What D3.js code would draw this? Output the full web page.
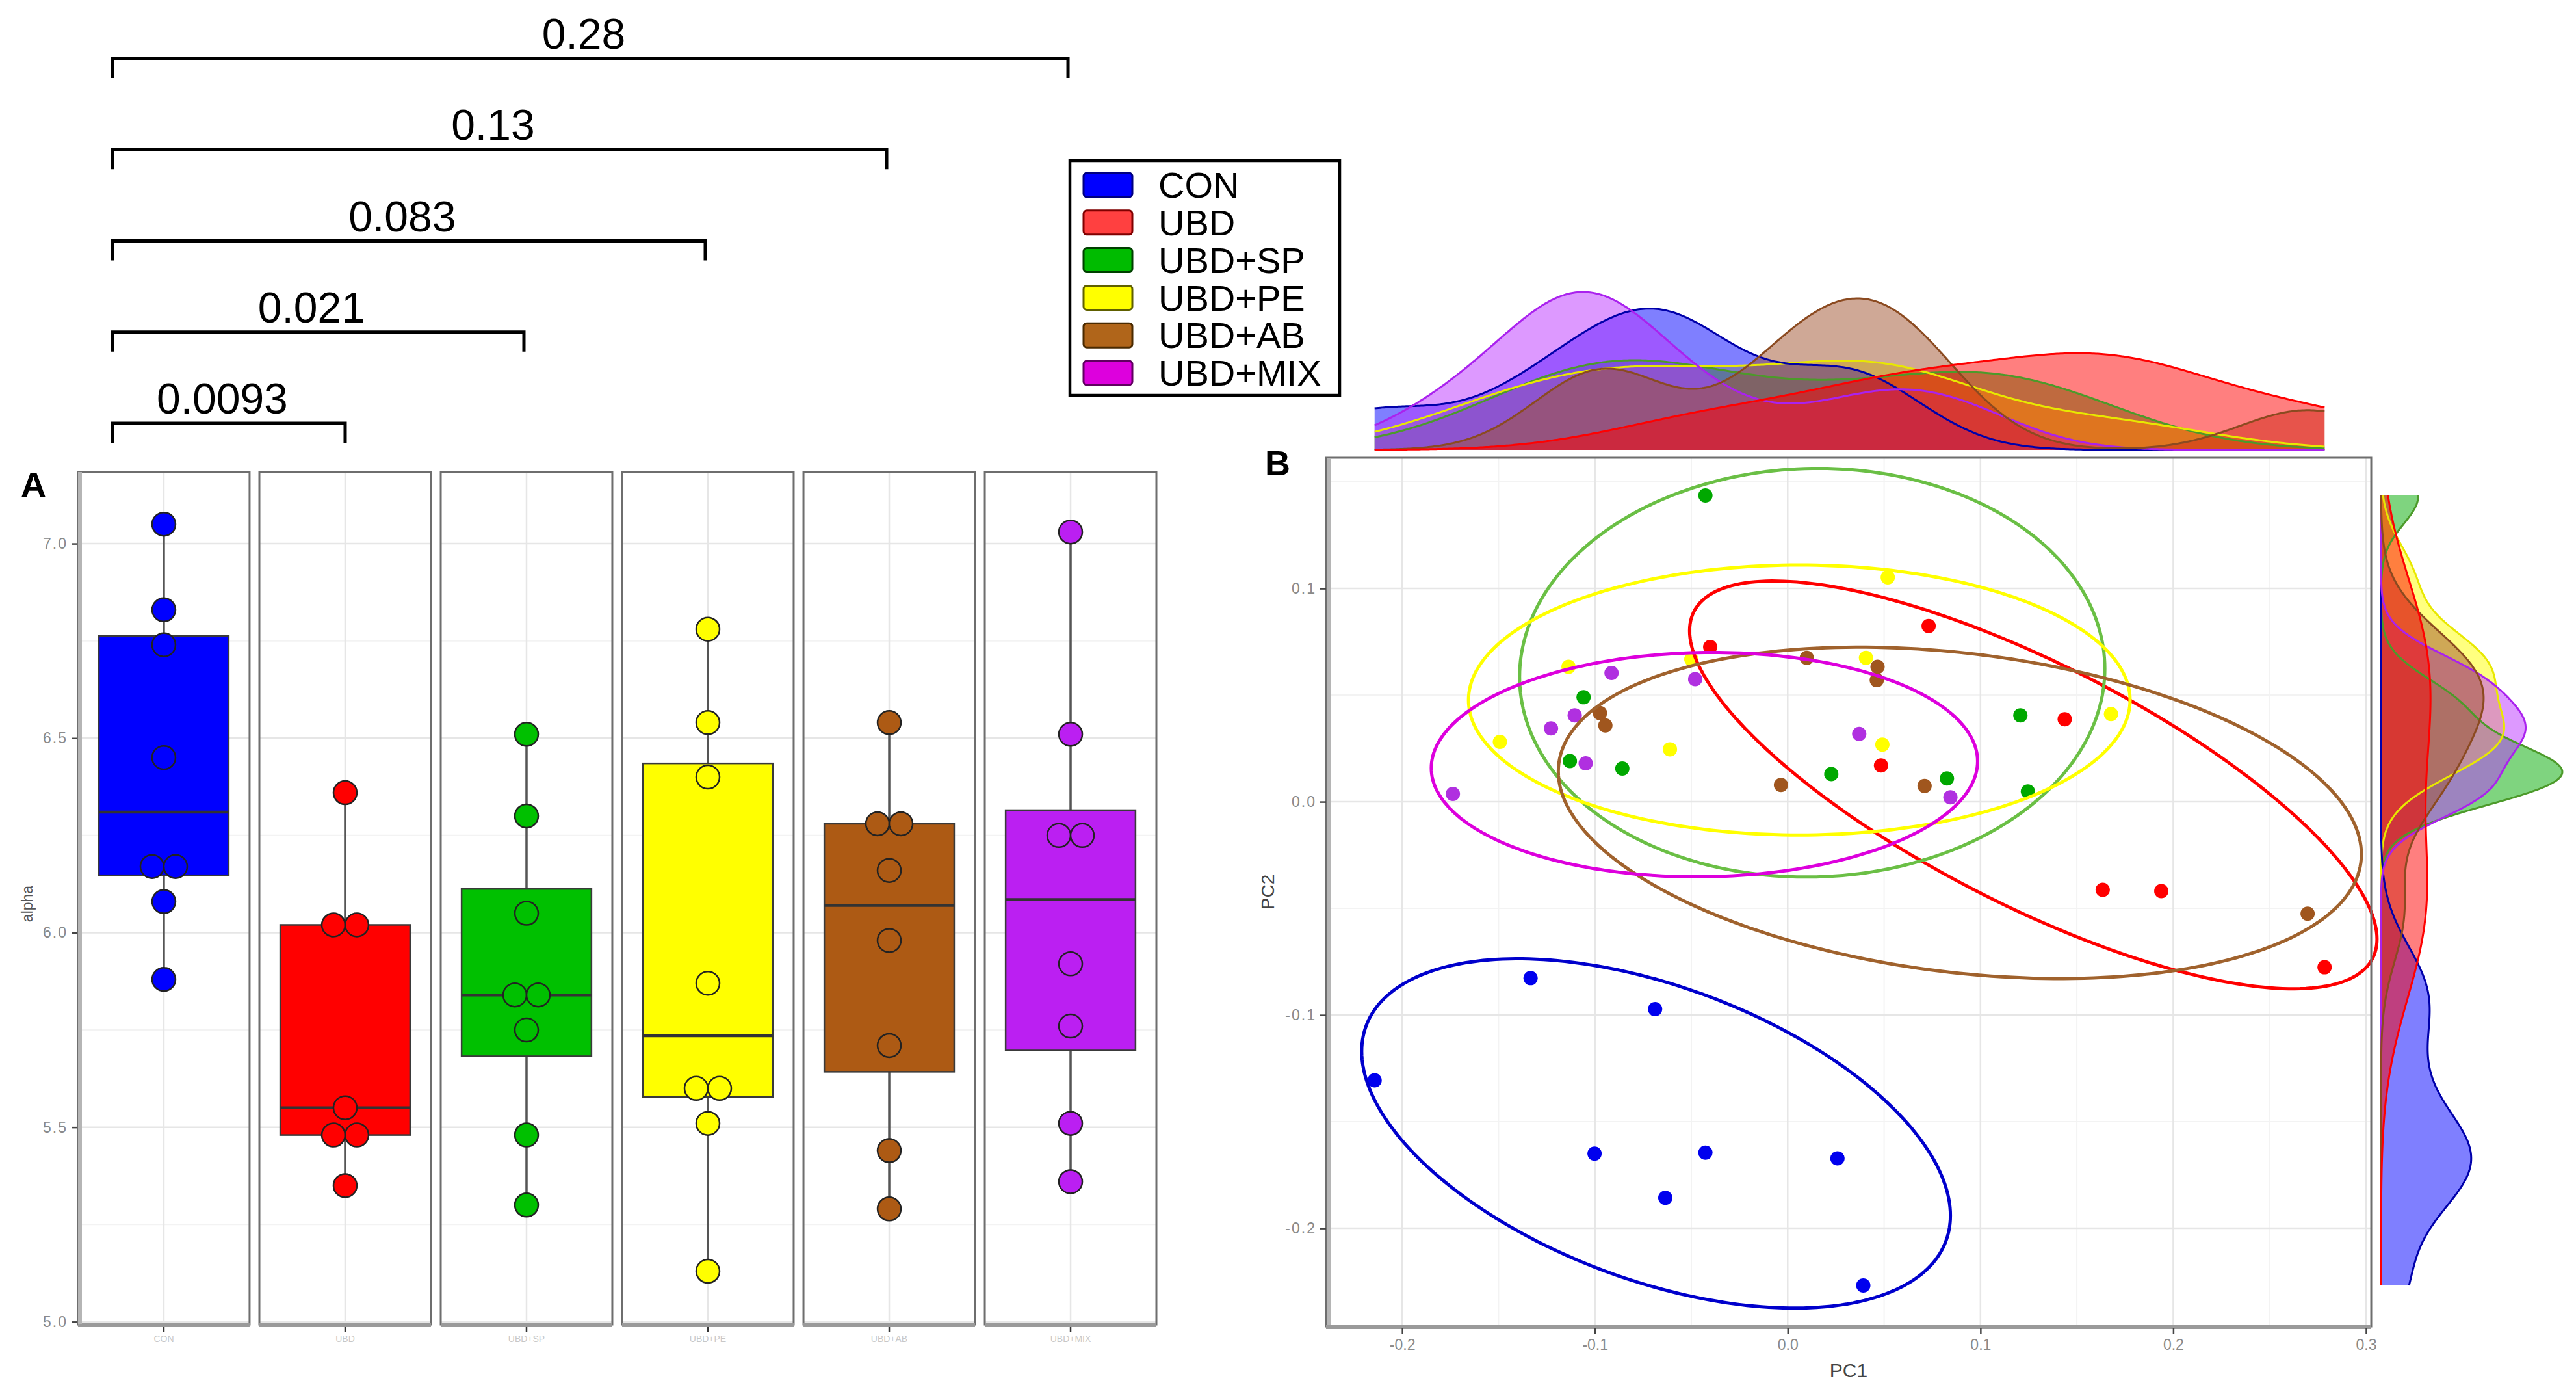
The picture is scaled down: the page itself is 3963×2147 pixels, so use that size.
<!DOCTYPE html>
<html>
<head>
<meta charset="utf-8">
<script src="https://cdn.jsdelivr.net/npm/d3@7"></script>
<style>
body { margin: 0; background: #fff; }
svg text { font-family: "Liberation Sans", Arial, sans-serif; }
</style>
</head>
<body>
<div id="chart"></div>
<script>
// groups and colours
const groups = ["CON", "UBD", "UBD+SP", "UBD+PE", "UBD+AB", "UBD+MIX"]
const boxFill = ["#0000ff", "#ff0000", "#00c000", "#ffff00", "#ad5a14", "#bb1ff2"]
const legendFill = ["#0000ff", "#ff4040", "#00bb00", "#ffff00", "#b0651a", "#dd00dd"]
const legendStroke = ["#000080", "#800000", "#004000", "#606000", "#4a2a00", "#600060"]
const pointFill = ["#0000ee", "#ff0000", "#00a800", "#ffff00", "#a0561e", "#b030e0"]
const ellipseColor = ["#0000cc", "#ff0000", "#6abf45", "#ffff00", "#a0622d", "#dd00dd"]
const densFill = ["#0000ff", "#ff0000", "#00aa00", "#ffff00", "#a0522d", "#bb33ff"]
const densStroke = ["#0000aa", "#ff0000", "#4c9a2a", "#e8e800", "#8b4a20", "#aa22ee"]

// panel A: alpha diversity per group
const alphaCON = [7.05, 6.83, 6.74, 6.45, 6.17, 6.17, 6.08, 5.88]
const alphaUBD = [6.36, 6.02, 6.02, 5.55, 5.48, 5.48, 5.35]
const alphaSP = [6.51, 6.30, 6.05, 5.84, 5.84, 5.75, 5.48, 5.30]
const alphaPE = [6.78, 6.54, 6.40, 5.87, 5.60, 5.60, 5.51, 5.13]
const alphaAB = [6.54, 6.28, 6.28, 6.16, 5.98, 5.71, 5.44, 5.29]
const alphaMIX = [7.03, 6.51, 6.25, 6.25, 5.92, 5.76, 5.51, 5.36]
const alphaTicks = [5.0, 5.5, 6.0, 6.5, 7.0]

// p-values, each group vs CON
const pGroups = ["UBD", "UBD+SP", "UBD+PE", "UBD+AB", "UBD+MIX"]
const pValues = ["0.0093", "0.021", "0.083", "0.13", "0.28"]

// panel B: PCoA coordinates
const pc1CON = [-0.1334, -0.0688, -0.2143, -0.1002, -0.0427, 0.0258, -0.0635, 0.0392]
const pc2CON = [-0.0827, -0.0972, -0.1306, -0.1650, -0.1645, -0.1672, -0.1857, -0.2268]
const pc1UBD = [-0.0402, 0.0731, 0.1437, 0.0484, 0.1634, 0.1938, 0.2785]
const pc2UBD = [0.0726, 0.0824, 0.0387, 0.0170, -0.0413, -0.0419, -0.0776]
const pc1SP = [-0.0427, -0.1059, -0.1130, -0.0858, 0.0226, 0.0826, 0.1207, 0.1246]
const pc2SP = [0.1436, 0.0490, 0.0191, 0.0156, 0.0130, 0.0109, 0.0405, 0.0048]
const pc1PE = [0.0519, -0.1137, 0.0406, -0.1493, -0.0611, 0.0491, 0.1677, -0.0500]
const pc2PE = [0.1052, 0.0633, 0.0675, 0.0281, 0.0246, 0.0268, 0.0411, 0.0668]
const pc1AB = [0.0099, 0.0466, 0.0462, -0.0974, -0.0946, -0.0035, 0.0710, 0.2697]
const pc2AB = [0.0675, 0.0633, 0.0570, 0.0416, 0.0358, 0.0079, 0.0074, -0.0525]
const pc1MIX = [-0.0914, -0.0480, -0.1105, -0.1228, -0.1048, -0.1737, 0.0371, 0.0844]
const pc2MIX = [0.0604, 0.0575, 0.0405, 0.0344, 0.0180, 0.0037, 0.0318, 0.0021]
const pc1Ticks = [-0.2, -0.1, 0.0, 0.1, 0.2, 0.3]
const pc2Ticks = [-0.2, -0.1, 0.0, 0.1]

// group ellipses (centre, half width, half height, tilt k = cos delta)
const ellCx = [-0.0683, 0.1274, 0.0127, 0.0060, 0.0893, -0.0432]
const ellCy = [-0.1555, 0.0079, 0.0605, 0.0477, -0.0052, 0.0174]
const ellA = [0.1527, 0.1783, 0.1518, 0.1716, 0.2083, 0.1417]
const ellB = [0.0819, 0.0956, 0.0958, 0.0633, 0.0777, 0.0526]
const ellK = [-0.47, -0.756, 0.02, 0.0, -0.25, 0.03]

const width = 3963, height = 2147
const svg = d3.select('#chart').append('svg').attr('width', width).attr('height', height)
svg.append('rect').attr('width', width).attr('height', height).attr('fill', '#fff')

// ================= Panel A =================
const alphaData = [alphaCON, alphaUBD, alphaSP, alphaPE, alphaAB, alphaMIX]
const xA = d3.scaleBand().domain(groups).range([120, 1779]).paddingInner(0.054)
const yA = d3.scaleLinear().domain([4.993, 7.184]).range([2037, 726])
const bw = xA.bandwidth()
const gA = svg.append('g')

groups.forEach((g, i) => {
    const x0 = xA(g), cx = x0 + bw / 2
    const p = gA.append('g')
    p.append('rect').attr('x', x0).attr('y', yA.range()[1]).attr('width', bw)
        .attr('height', yA.range()[0] - yA.range()[1]).attr('fill', '#fff')
    // minor grid
    d3.range(5.25, 7.2, 0.5).forEach(v => {
        p.append('line').attr('x1', x0).attr('x2', x0 + bw).attr('y1', yA(v)).attr('y2', yA(v))
            .attr('stroke', '#f3f3f3').attr('stroke-width', 2)
    })
    alphaTicks.forEach(v => {
        p.append('line').attr('x1', x0).attr('x2', x0 + bw).attr('y1', yA(v)).attr('y2', yA(v))
            .attr('stroke', '#e6e6e6').attr('stroke-width', 2.5)
    })
    p.append('line').attr('x1', cx).attr('x2', cx).attr('y1', yA.range()[1]).attr('y2', yA.range()[0])
        .attr('stroke', '#e6e6e6').attr('stroke-width', 2.5)

    // box stats
    const vals = alphaData[i].slice().sort(d3.ascending)
    const q1 = d3.quantileSorted(vals, 0.25), q3 = d3.quantileSorted(vals, 0.75)
    const med = d3.quantileSorted(vals, 0.5), iqr = q3 - q1
    const lo = d3.min(vals.filter(v => v >= q1 - 1.5 * iqr))
    const hi = d3.max(vals.filter(v => v <= q3 + 1.5 * iqr))
    const boxW = bw * 0.757

    p.append('line').attr('x1', cx).attr('x2', cx).attr('y1', yA(hi)).attr('y2', yA(lo))
        .attr('stroke', '#555').attr('stroke-width', 3.5)
    p.append('rect').attr('x', cx - boxW / 2).attr('y', yA(q3)).attr('width', boxW)
        .attr('height', yA(q1) - yA(q3)).attr('fill', boxFill[i])
        .attr('stroke', '#3a3a3a').attr('stroke-width', 2.5)
    p.append('line').attr('x1', cx - boxW / 2).attr('x2', cx + boxW / 2)
        .attr('y1', yA(med)).attr('y2', yA(med)).attr('stroke', '#333').attr('stroke-width', 4.5)

    // dots, equal values placed side by side
    const r = 18
    const pts = alphaData[i].map((v, j) => {
        const same = alphaData[i].filter(w => w === v).length
        const idx = alphaData[i].slice(0, j).filter(w => w === v).length
        return { v: v, dx: (idx - (same - 1) / 2) * 2 * r }
    })
    p.selectAll('circle').data(pts).join('circle')
        .attr('cx', d => cx + d.dx).attr('cy', d => yA(d.v)).attr('r', r)
        .attr('fill', boxFill[i]).attr('stroke', '#222').attr('stroke-width', 2.5)

    p.append('rect').attr('x', x0).attr('y', yA.range()[1]).attr('width', bw)
        .attr('height', yA.range()[0] - yA.range()[1]).attr('fill', 'none')
        .attr('stroke', '#6e6e6e').attr('stroke-width', 3)
    p.append('line').attr('x1', x0).attr('x2', x0 + bw).attr('y1', yA.range()[0] + 1).attr('y2', yA.range()[0] + 1)
        .attr('stroke', '#9a9a9a').attr('stroke-width', 6)
    // x tick + faint label
    p.append('line').attr('x1', cx).attr('x2', cx).attr('y1', yA.range()[0] + 4).attr('y2', yA.range()[0] + 12)
        .attr('stroke', '#333').attr('stroke-width', 2.5)
    p.append('text').attr('x', cx).attr('y', 2064).attr('text-anchor', 'middle')
        .style('font-size', '14px').attr('fill', '#c8c8c8').text(g)
})

// left axis bar + ticks
gA.append('line').attr('x1', 123).attr('x2', 123).attr('y1', yA.range()[1]).attr('y2', yA.range()[0])
    .attr('stroke', '#b5b5b5').attr('stroke-width', 6)
const axA = gA.append('g').attr('transform', 'translate(118,0)')
    .call(d3.axisLeft(yA).tickValues(alphaTicks).tickFormat(d => d.toFixed(1)).tickSize(8).tickPadding(6))
axA.select('.domain').remove()
axA.selectAll('line').attr('stroke', '#444').attr('stroke-width', 2.5)
axA.selectAll('text').attr('fill', '#8a8a8a').style('font-size', '23px').style('letter-spacing', '2px')
    .style('font-family', '"Liberation Sans", Arial, sans-serif')

gA.append('text').attr('transform', 'translate(50,1390) rotate(-90)').attr('text-anchor', 'middle')
    .style('font-size', '23px').attr('fill', '#555').text('alpha')
gA.append('text').attr('x', 32).attr('y', 764).style('font-size', '54px').style('font-weight', 'bold')
    .attr('fill', '#000').text('A')

// significance brackets
const yBr = d3.scalePoint().domain(pGroups).range([651, 90])
pGroups.forEach((g, i) => {
    const xl = xA("CON") + bw * 0.2
    const xr = xA(g) + bw / 2 - (i === 0 ? 0 : 4)
    const y = yBr(g)
    gA.append('path').attr('d', `M${xl},${y + 30}V${y}H${xr}V${y + 30}`)
        .attr('fill', 'none').attr('stroke', '#000').attr('stroke-width', 5)
    gA.append('text').attr('x', (xl + xr) / 2 - 10).attr('y', y - 15).attr('text-anchor', 'middle')
        .style('font-size', '66px').attr('fill', '#000').text(pValues[i])
})

// legend
const gL = svg.append('g')
gL.append('rect').attr('x', 1646).attr('y', 247).attr('width', 415).attr('height', 361)
    .attr('fill', '#fff').attr('stroke', '#000').attr('stroke-width', 4.5)
const yLeg = d3.scalePoint().domain(groups).range([284.5, 284.5 + 5 * 57.8])
groups.forEach((g, i) => {
    gL.append('rect').attr('x', 1667).attr('y', yLeg(g) - 18.5).attr('width', 75).attr('height', 37)
        .attr('rx', 5).attr('fill', legendFill[i]).attr('stroke', legendStroke[i]).attr('stroke-width', 3)
    gL.append('text').attr('x', 1782).attr('y', yLeg(g)).attr('dy', '0.35em')
        .style('font-size', '56px').attr('fill', '#000').text(g)
})

// ================= Panel B =================
const pc1 = [pc1CON, pc1UBD, pc1SP, pc1PE, pc1AB, pc1MIX]
const pc2 = [pc2CON, pc2UBD, pc2SP, pc2PE, pc2AB, pc2MIX]
const xB = d3.scaleLinear().domain([-0.2395, 0.3027]).range([2040, 3648])
const yB = d3.scaleLinear().domain([-0.246, 0.1613]).range([2040, 704])
const gB = svg.append('g')

gB.append('rect').attr('x', 2040).attr('y', 704).attr('width', 1608).attr('height', 1336).attr('fill', '#fff')
d3.range(-0.15, 0.3, 0.1).forEach(v => {
    gB.append('line').attr('x1', xB(v)).attr('x2', xB(v)).attr('y1', 704).attr('y2', 2040)
        .attr('stroke', '#f3f3f3').attr('stroke-width', 2)
})
d3.range(-0.15, 0.16, 0.1).forEach(v => {
    gB.append('line').attr('x1', 2040).attr('x2', 3648).attr('y1', yB(v)).attr('y2', yB(v))
        .attr('stroke', '#f3f3f3').attr('stroke-width', 2)
})
pc1Ticks.forEach(v => {
    gB.append('line').attr('x1', xB(v)).attr('x2', xB(v)).attr('y1', 704).attr('y2', 2040)
        .attr('stroke', '#e6e6e6').attr('stroke-width', 2.5)
})
pc2Ticks.forEach(v => {
    gB.append('line').attr('x1', 2040).attr('x2', 3648).attr('y1', yB(v)).attr('y2', yB(v))
        .attr('stroke', '#e6e6e6').attr('stroke-width', 2.5)
})

// points
groups.forEach((g, i) => {
    gB.append('g').selectAll('circle').data(d3.zip(pc1[i], pc2[i])).join('circle')
        .attr('cx', d => xB(d[0])).attr('cy', d => yB(d[1])).attr('r', 11)
        .attr('fill', pointFill[i])
})

// ellipses
const ellLine = d3.line().x(d => xB(d[0])).y(d => yB(d[1])).curve(d3.curveLinearClosed)
groups.forEach((g, i) => {
    const s = Math.sqrt(1 - ellK[i] * ellK[i])
    const pts = d3.range(0, 2 * Math.PI, Math.PI / 120).map(t => [
        ellCx[i] + ellA[i] * Math.cos(t),
        ellCy[i] + ellB[i] * (ellK[i] * Math.cos(t) - s * Math.sin(t))
    ])
    gB.append('path').attr('d', ellLine(pts)).attr('fill', 'none')
        .attr('stroke', ellipseColor[i]).attr('stroke-width', 5)
})

gB.append('rect').attr('x', 2040).attr('y', 704).attr('width', 1608).attr('height', 1336)
    .attr('fill', 'none').attr('stroke', '#6e6e6e').attr('stroke-width', 3)
gB.append('line').attr('x1', 2044).attr('x2', 2044).attr('y1', 704).attr('y2', 2040)
    .attr('stroke', '#b5b5b5').attr('stroke-width', 6)
gB.append('line').attr('x1', 2040).attr('x2', 3648).attr('y1', 2041).attr('y2', 2041)
    .attr('stroke', '#9a9a9a').attr('stroke-width', 6)

const fmt = d => (d < 0 ? '-' : '') + Math.abs(d).toFixed(1)
const axBx = gB.append('g').attr('transform', 'translate(0,2043)')
    .call(d3.axisBottom(xB).tickValues(pc1Ticks).tickFormat(fmt).tickSize(9).tickPadding(8))
const axBy = gB.append('g').attr('transform', 'translate(2040,0)')
    .call(d3.axisLeft(yB).tickValues(pc2Ticks).tickFormat(fmt).tickSize(9).tickPadding(6))
;[axBx, axBy].forEach(ax => {
    ax.select('.domain').remove()
    ax.selectAll('line').attr('stroke', '#444').attr('stroke-width', 2.5)
    ax.selectAll('text').attr('fill', '#8a8a8a').style('font-size', '23px')
        .style('font-family', '"Liberation Sans", Arial, sans-serif')
})
axBy.selectAll('text').style('letter-spacing', '2px')

gB.append('text').attr('x', (2040 + 3648) / 2).attr('y', 2118).attr('text-anchor', 'middle')
    .style('font-size', '30px').attr('fill', '#444').text('PC1')
gB.append('text').attr('transform', 'translate(1960,1372) rotate(-90)').attr('text-anchor', 'middle')
    .style('font-size', '28px').attr('fill', '#444').text('PC2')
gB.append('text').attr('x', 1946).attr('y', 731).style('font-size', '54px').style('font-weight', 'bold')
    .attr('fill', '#000').text('B')

// ================= marginal densities =================
function bwNrd0(v) {
    const s = d3.deviation(v)
    const sorted = v.slice().sort(d3.ascending)
    const iqr = d3.quantileSorted(sorted, 0.75) - d3.quantileSorted(sorted, 0.25)
    return 0.9 * Math.min(s, iqr / 1.34) * Math.pow(v.length, -0.2)
}
function kde(v, grid) {
    const h = bwNrd0(v)
    return grid.map(x => [x, d3.sum(v, xi => Math.exp(-0.5 * ((x - xi) / h) ** 2)) /
        (v.length * h * Math.sqrt(2 * Math.PI))])
}
// green / yellow underneath, red on top
const drawOrder = [2, 3, 0, 5, 4, 1]

// top, PC1
const ext1 = d3.extent(pc1.flat())
const grid1 = d3.range(512).map(i => ext1[0] + i * (ext1[1] - ext1[0]) / 511)
const dens1 = pc1.map(v => kde(v, grid1))
const yTop = d3.scaleLinear().domain([0, d3.max(dens1.flat(), d => d[1])]).range([692, 449])
const areaTop = d3.area().x(d => xB(d[0])).y0(692).y1(d => yTop(d[1]))
const lineTop = d3.line().x(d => xB(d[0])).y(d => yTop(d[1]))
const gT = svg.append('g')
drawOrder.forEach(i => {
    gT.append('path').attr('d', areaTop(dens1[i])).attr('fill', densFill[i]).attr('fill-opacity', 0.5)
})
drawOrder.forEach(i => {
    gT.append('path').attr('d', lineTop(dens1[i])).attr('fill', 'none')
        .attr('stroke', densStroke[i]).attr('stroke-width', 3)
})

// right, PC2
const ext2 = d3.extent(pc2.flat())
const grid2 = d3.range(512).map(i => ext2[0] + i * (ext2[1] - ext2[0]) / 511)
const dens2 = pc2.map(v => kde(v, grid2))
const xRight = d3.scaleLinear().domain([0, d3.max(dens2.flat(), d => d[1])]).range([3663, 3942])
const areaRight = d3.area().y(d => yB(d[0])).x0(3663).x1(d => xRight(d[1]))
const lineRight = d3.line().y(d => yB(d[0])).x(d => xRight(d[1]))
const gR = svg.append('g')
drawOrder.forEach(i => {
    gR.append('path').attr('d', areaRight(dens2[i])).attr('fill', densFill[i]).attr('fill-opacity', 0.5)
})
drawOrder.forEach(i => {
    gR.append('path').attr('d', lineRight(dens2[i])).attr('fill', 'none')
        .attr('stroke', densStroke[i]).attr('stroke-width', 3)
})
</script>
</body>
</html>
